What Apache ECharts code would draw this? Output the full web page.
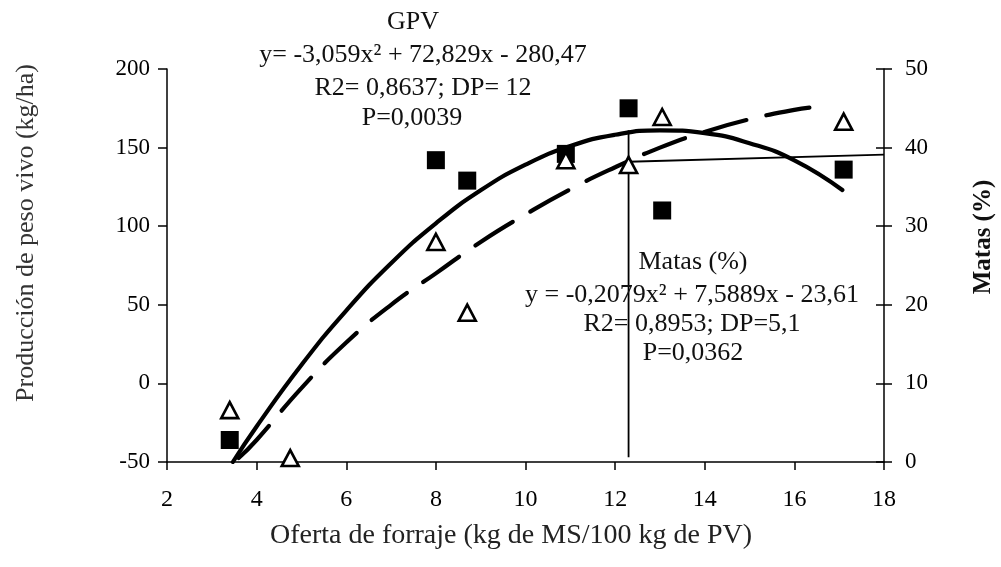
<!DOCTYPE html>
<html>
<head>
<meta charset="utf-8">
<script src="https://cdn.jsdelivr.net/npm/echarts@6/dist/echarts.min.js"></script>
<style>
html,body{margin:0;padding:0;background:#fff;}
#c{width:1001px;height:567px;}
</style>
</head>
<body>
<div id="c"></div>
<script>
// ---- data ----
var xTicks = [2, 4, 6, 8, 10, 12, 14, 16, 18];
var leftTicks = [-50, 0, 50, 100, 150, 200];
var rightTicks = [0, 10, 20, 30, 40, 50];

// GPV observations (left axis, kg/ha)
var gpvX = [3.4, 8.0, 8.7, 10.9, 12.3, 13.05, 17.1];
var gpvY = [-36, 142, 129, 146, 175, 110, 136];

// Matas observations (right axis, %)
var matasX = [3.4, 4.75, 8.0, 8.7, 10.9, 12.3, 13.05, 17.1];
var matasY = [6.6, 0.5, 28, 19, 38.4, 37.8, 43.9, 43.3];

// GPV fitted curve as drawn (left axis)
var gpvFitX = [3.47, 4, 5, 6, 7, 8, 9, 10, 11, 12, 13, 14, 15, 16, 17.07];
var gpvFitY = [-50, -27.4, 11.7, 46.3, 76.4, 101.8, 122.8, 139.1, 151, 158.2, 161, 159.2, 152.8, 141.9, 123];

// Matas fitted curve as drawn (right axis)
var matasFitX = [3.6, 4, 5, 6, 7, 8, 9, 10, 11, 12, 13, 14, 15, 16, 16.5];
var matasFitY = [0.5, 2.8, 9.4, 15.2, 20.0, 24.0, 28.0, 31.5, 34.7, 37.5, 40.0, 42.0, 43.6, 44.8, 45.2];

// reference lines
var vLineX = [12.3, 12.3];
var vLineY = [-47, 161];          // left axis
var hLineX = [12.3, 18];
var hLineY = [38.2, 39.1];        // right axis

var gpvLabel = ['GPV', 'y= -3,059x\u00b2 + 72,829x - 280,47', 'R2= 0,8637; DP= 12', 'P=0,0039'];
var matasLabel = ['Matas (%)', 'y = -0,2079x\u00b2 + 7,5889x - 23,61', 'R2= 0,8953; DP=5,1', 'P=0,0362'];
var xTitle = 'Oferta de forraje (kg de MS/100 kg de PV)';
var yLeftTitle = 'Producción de peso vivo (kg/ha)';
var yRightTitle = 'Matas (%)';

function pairs(xs, ys){ return xs.map(function(x,i){ return [x, ys[i]]; }); }

var FONT = 'Liberation Serif';
var chart = echarts.init(document.getElementById('c'));

var gfx = [];
var gpvPos = [[413, 22], [423, 55], [423, 88], [412, 118]];
var matPos = [[693, 262], [692, 295], [692, 324], [693, 353]];
gpvLabel.forEach(function(t,i){
  gfx.push({type:'text', style:{text:t, x:gpvPos[i][0], y:gpvPos[i][1], textAlign:'center', textVerticalAlign:'middle', font:'26px "Liberation Serif"', fill:'#111'}, z:50});
});
matasLabel.forEach(function(t,i){
  gfx.push({type:'text', style:{text:t, x:matPos[i][0], y:matPos[i][1], textAlign:'center', textVerticalAlign:'middle', font:'26px "Liberation Serif"', fill:'#111'}, z:50});
});
gfx.push({type:'text', style:{text:xTitle, x:511, y:536, textAlign:'center', textVerticalAlign:'middle', font:'28px "Liberation Serif"', fill:'#222'}, z:50});
gfx.push({type:'text', x:26, y:233, rotation:Math.PI/2, style:{text:yLeftTitle, x:0, y:0, textAlign:'center', textVerticalAlign:'middle', font:'26px "Liberation Serif"', fill:'#333'}, z:50});
gfx.push({type:'text', x:984, y:237, rotation:Math.PI/2, style:{text:yRightTitle, x:0, y:0, textAlign:'center', textVerticalAlign:'middle', font:'bold 25px "Liberation Serif"', fill:'#111'}, z:50});

var axisLineStyle = {color:'#000', width:1.5};

chart.setOption({
  animation:false,
  backgroundColor:'#fff',
  textStyle:{fontFamily:FONT},
  grid:{left:167, right:117, top:69, bottom:105, containLabel:false},
  graphic: gfx,
  xAxis:{
    type:'value', min:xTicks[0], max:xTicks[xTicks.length-1], interval:2,
    axisLine:{show:true, onZero:false, lineStyle:axisLineStyle},
    axisTick:{show:true, length:8, lineStyle:axisLineStyle},
    axisLabel:{fontFamily:FONT, fontSize:24, color:'#000', margin:26},
    splitLine:{show:false}
  },
  yAxis:[
    {
      type:'value', position:'left', min:leftTicks[0], max:leftTicks[leftTicks.length-1], interval:50,
      axisLine:{show:true, onZero:false, lineStyle:axisLineStyle},
      axisTick:{show:true, length:9, lineStyle:axisLineStyle},
      axisLabel:{fontFamily:FONT, fontSize:23, color:'#000', margin:17},
      splitLine:{show:false}
    },
    {
      type:'value', position:'right', min:rightTicks[0], max:rightTicks[rightTicks.length-1], interval:10,
      axisLine:{show:true, onZero:false, lineStyle:axisLineStyle},
      axisTick:{show:true, length:8, lineStyle:axisLineStyle},
      axisLabel:{fontFamily:FONT, fontSize:23, color:'#000', margin:21},
      splitLine:{show:false}
    },
    {
      type:'value', position:'right', min:rightTicks[0], max:rightTicks[rightTicks.length-1], interval:10,
      axisLine:{show:false},
      axisTick:{show:true, inside:true, length:8, lineStyle:axisLineStyle},
      axisLabel:{show:false},
      splitLine:{show:false}
    }
  ],
  series:[
    {
      type:'line', yAxisIndex:0, data:pairs(vLineX, vLineY), symbol:'none',
      lineStyle:{color:'#000', width:1.8}, z:2, silent:true
    },
    {
      type:'line', yAxisIndex:1, data:pairs(hLineX, hLineY), symbol:'none',
      lineStyle:{color:'#000', width:1.8}, z:2, silent:true
    },
    {
      type:'line', yAxisIndex:0, data:pairs(gpvFitX, gpvFitY), symbol:'none', smooth:0.5,
      lineStyle:{color:'#000', width:4.2, cap:'round'}, z:3
    },
    {
      type:'line', yAxisIndex:1, data:pairs(matasFitX, matasFitY), symbol:'none', smooth:0.5,
      lineStyle:{color:'#000', width:4.2, type:[44, 20], cap:'round'}, z:3
    },
    {
      type:'scatter', yAxisIndex:0, data:pairs(gpvX, gpvY), symbol:'rect', symbolSize:18,
      itemStyle:{color:'#000', opacity:1}, z:4
    },
    {
      type:'scatter', yAxisIndex:1, data:pairs(matasX, matasY), symbol:'triangle', symbolSize:[17,16],
      itemStyle:{color:'#fff', borderColor:'#000', borderWidth:2.6, opacity:1}, z:5
    }
  ]
});
</script>
</body>
</html>
